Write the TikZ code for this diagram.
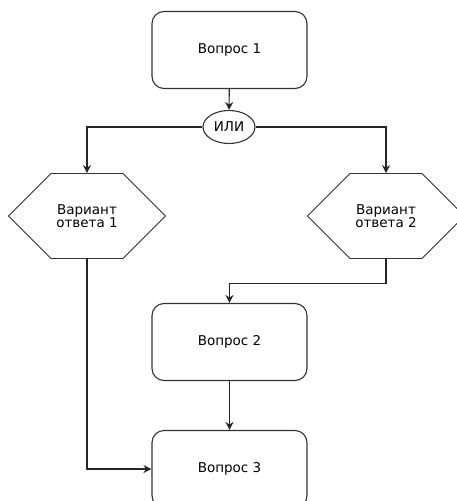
\documentclass[tikz,border=0pt]{standalone}
\usepackage{fontspec}
\setmainfont{DejaVu Sans}
\usetikzlibrary{arrows.meta,shapes.geometric,shapes.misc}
\tikzset{
  box/.style={rectangle, rounded corners=12pt, draw=black!80, line width=1.1pt,
              minimum width=155pt, minimum height=77pt, inner sep=0pt},
  hexa/.style={chamfered rectangle, chamfered rectangle xsep=39pt, chamfered rectangle ysep=39pt,
               draw=black!80, line width=0.9pt, minimum width=157pt, minimum height=78pt,
               inner sep=0pt, align=center},
  ili/.style={ellipse, draw=black!80, line width=1.1pt, minimum width=52pt, minimum height=33pt, inner sep=0pt},
  arr/.style={-{Stealth[length=8pt,width=8pt]}, line width=1.1pt, black!85},
}

\begin{document}
\begin{tikzpicture}[x=1pt, y=-1pt, font=\fontsize{13.5}{13.5}\selectfont]
\clip (0,0) rectangle (457,501);
\foreach \n/\y/\t in {q1/50/Вопрос 1, q2/342/Вопрос 2, q3/469/Вопрос 3}
  \node[box] (\n) at (229.5,\y) {\t};
\node[ili] (or) at (229,127) {ИЛИ};
\node[hexa] (h1) at (87,216) {Вариант\\ответа 1};
\node[hexa] (h2) at (386,216) {Вариант\\ответа 2};
\draw[arr] (q1) -- (or);
\draw[arr] (or.west) -| (h1.north);
\draw[arr] (or.east) -| (h2.north);
\draw[arr] (h2.south) -- ++(0,25) -| (q2.north);
\draw[arr] (q2) -- (q3);
\draw[arr] (h1.south) |- (q3.west);
\end{tikzpicture}
\end{document}
